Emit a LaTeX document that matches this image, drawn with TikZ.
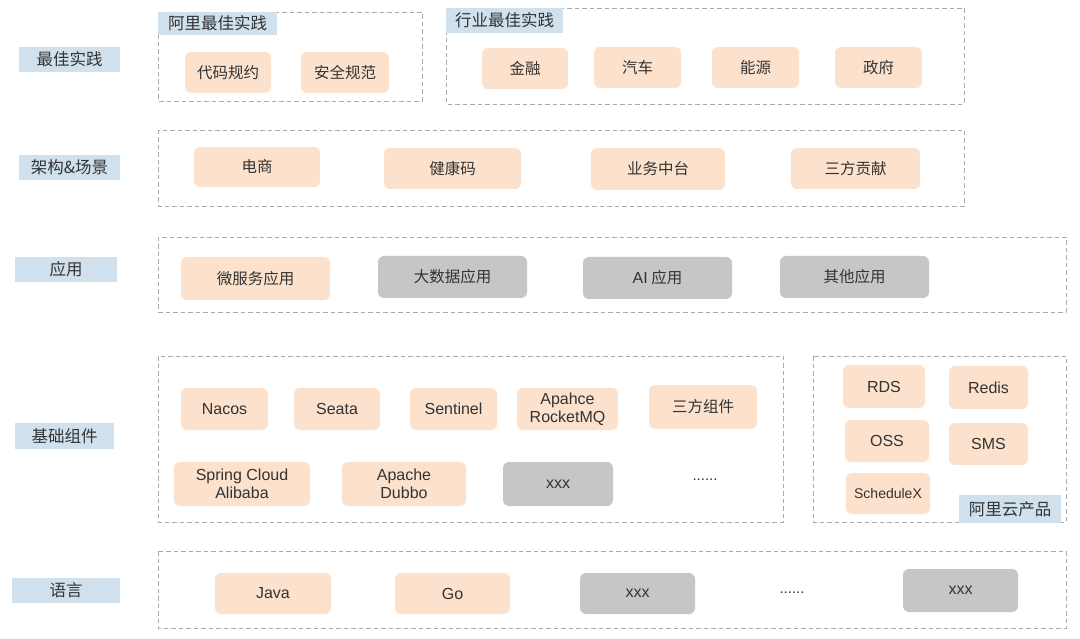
\documentclass[tikz,border=0pt]{standalone}
\usepackage{fontspec}
\setmainfont{Noto Sans CJK SC}
\newfontfamily\lat{Liberation Sans}
\definecolor{peach}{HTML}{FCE2CD}
\definecolor{greybox}{HTML}{C6C6C6}
\definecolor{bluelab}{HTML}{D0E1ED}
\definecolor{dashc}{HTML}{ABABAB}
\definecolor{txt}{HTML}{333333}
\tikzset{
  base/.style={inner sep=0pt, align=center, text=txt, font=\fontsize{15.5}{18.5}\selectfont},
  pbox/.style={base, fill=peach, rounded corners=6pt},
  gbox/.style={base, fill=greybox, rounded corners=6pt},
  lab/.style={base, fill=bluelab, font=\fontsize{16.5}{18}\selectfont},
  frame/.style={draw=dashc, line width=0.9pt, dash pattern=on 4.5pt off 3pt},
  dots/.style={base, font=\lat\fontsize{15}{16}\selectfont},
}
\newcommand{\bx}[6]{\node[#1, minimum width=#4pt, minimum height=#5pt] (#2) at (#3) {#6};}
\newcommand{\lt}{\lat\fontsize{16}{18.5}\selectfont}
\begin{document}
\begin{tikzpicture}[x=1pt,y=-1pt]
\useasboundingbox[fill=white] (0,0) rectangle (1080,639);
% dashed frames
\draw[frame] (158,12) rectangle (422,101);
\draw[frame] (446,8) rectangle (964,104);
\draw[frame] (158,130) rectangle (964,206);
\draw[frame] (158,237) rectangle (1066,312);
\draw[frame] (158,356) rectangle (783,522);
\draw[frame] (813,356) rectangle (1066,522);
\draw[frame] (158,551) rectangle (1066,628);
% row labels
\bx{lab}{l1}{69.5,59.5}{101}{25}{最佳实践}
\bx{lab}{l2}{69.5,167.5}{101}{25}{架构\&场景}
\bx{lab}{l3}{66,269.5}{102}{25}{应用}
\bx{lab}{l4}{64.5,436}{99}{26}{基础组件}
\bx{lab}{l5}{66,590.5}{108}{25}{语言}
% group labels
\bx{lab}{ga}{217.5,23.5}{119}{23}{阿里最佳实践}
\bx{lab}{gb}{504.5,20.5}{117}{25}{行业最佳实践}
\bx{lab}{gc}{1010,509}{102}{28}{阿里云产品}
% row 1
\bx{pbox}{dm}{228,72.5}{86}{41}{代码规约}
\bx{pbox}{aq}{345,72.5}{88}{41}{安全规范}
\bx{pbox}{jr}{525,68.5}{86}{41}{金融}
\bx{pbox}{qc}{637.5,67.5}{87}{41}{汽车}
\bx{pbox}{ny}{755.5,67.5}{87}{41}{能源}
\bx{pbox}{zf}{878.5,67.5}{87}{41}{政府}
% row 2
\bx{pbox}{ds}{257,167}{126}{40}{电商}
\bx{pbox}{jk}{452.5,168.5}{137}{41}{健康码}
\bx{pbox}{yw}{658,169}{134}{42}{业务中台}
\bx{pbox}{sf}{855.5,168.5}{129}{41}{三方贡献}
% row 3
\bx{pbox}{wf}{255.5,278.5}{149}{43}{微服务应用}
\bx{gbox}{dsj}{452.5,277}{149}{42}{大数据应用}
\bx{gbox}{ai}{657.5,278}{149}{42}{{\lt AI} 应用}
\bx{gbox}{qt}{854.5,277}{149}{42}{其他应用}
% row 4
\bx{pbox}{nacos}{224.5,409}{87}{42}{\lt Nacos}
\bx{pbox}{seata}{337,409}{86}{42}{\lt Seata}
\bx{pbox}{sent}{453.5,409}{87}{42}{\lt Sentinel}
\bx{pbox}{rmq}{567.5,409}{101}{42}{\lt Apahce\\\lt RocketMQ}
\bx{pbox}{sfzj}{703,407}{108}{44}{三方组件}
\bx{pbox}{sca}{242,484}{136}{44}{\lt Spring Cloud\\\lt Alibaba}
\bx{pbox}{dubbo}{404,484}{124}{44}{\lt Apache\\\lt Dubbo}
\bx{gbox}{xa}{558,484}{110}{44}{\lt xxx}
\node[dots] (d1) at (705,480) {......};
\bx{pbox}{rds}{884,386.5}{82}{43}{\lt RDS}
\bx{pbox}{redis}{988.5,387.5}{79}{43}{\lt Redis}
\bx{pbox}{oss}{887,441}{84}{42}{\lt OSS}
\bx{pbox}{sms}{988.5,444}{79}{42}{\lt SMS}
\bx{pbox}{sx}{888,493.5}{84}{41}{\lat\fontsize{14}{16}\selectfont ScheduleX}
% row 5
\bx{pbox}{java}{273,593.5}{116}{41}{\lt Java}
\bx{pbox}{go}{452.5,593.5}{115}{41}{\lt Go}
\bx{gbox}{xb}{637.5,593.5}{115}{41}{\lt xxx}
\node[dots] (d2) at (792,593) {......};
\bx{gbox}{xc}{960.5,590.5}{115}{43}{\lt xxx}
\end{tikzpicture}
\end{document}
